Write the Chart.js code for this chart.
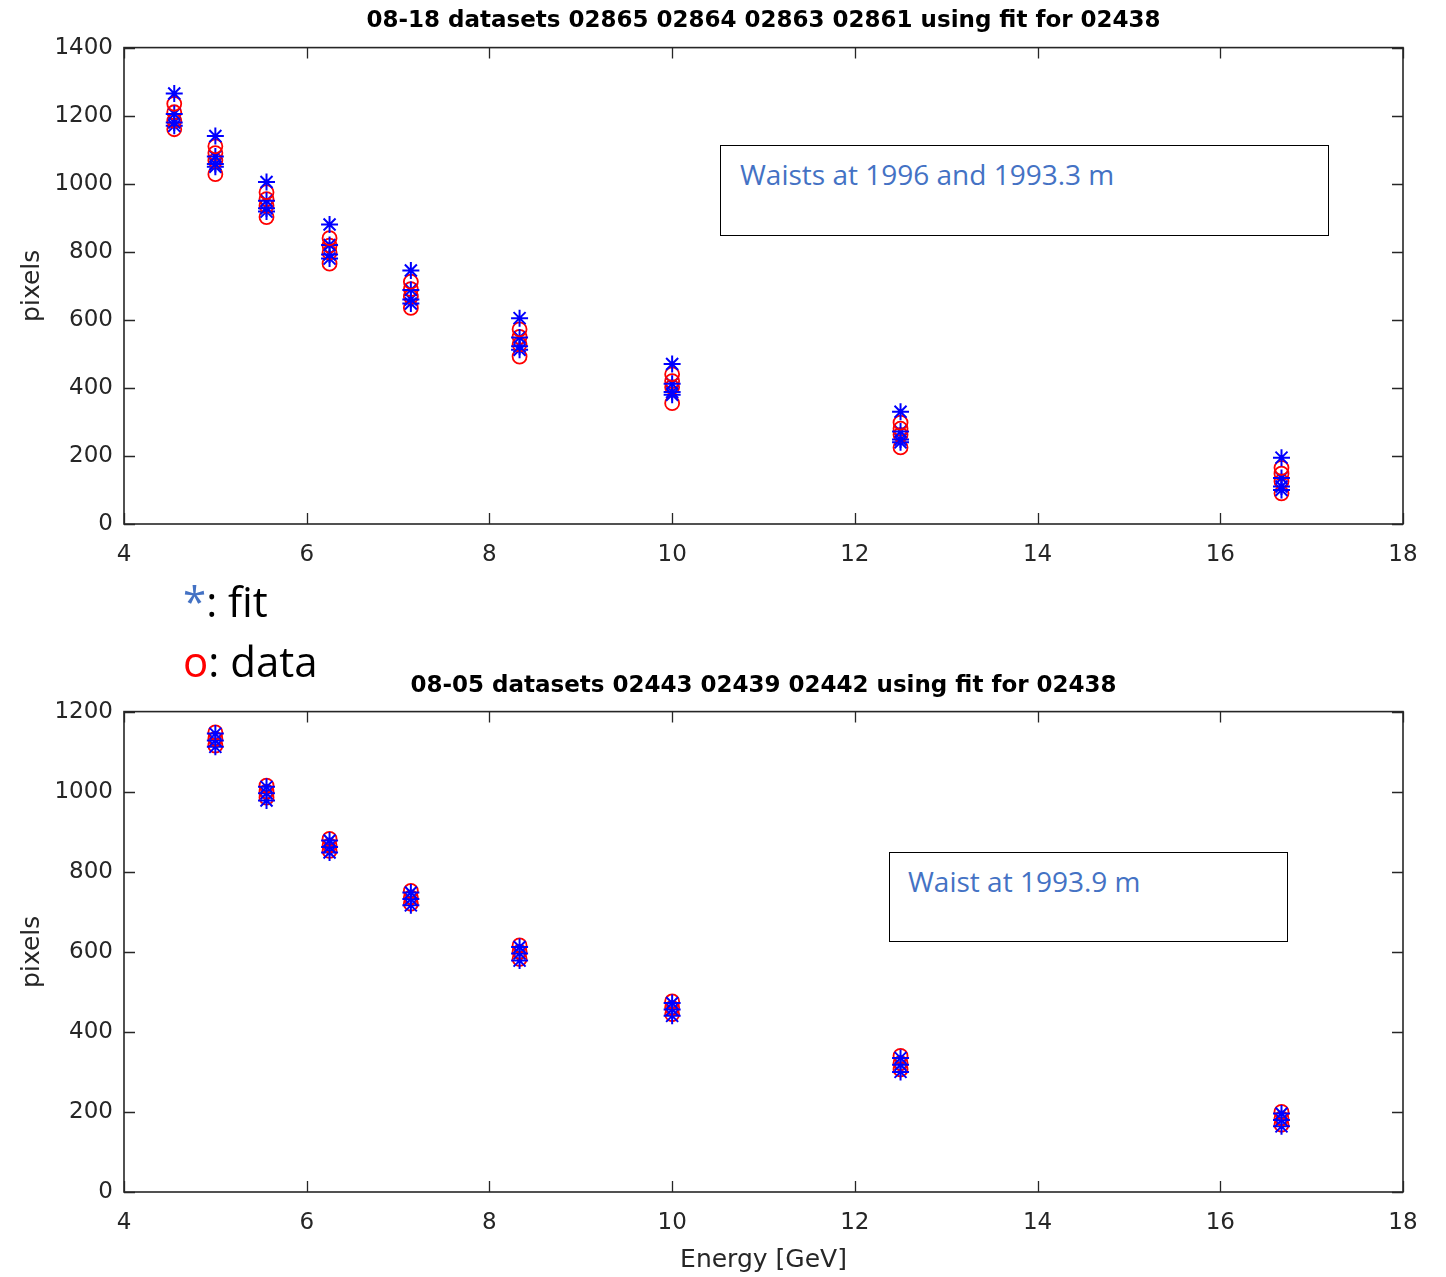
<!DOCTYPE html>
<html>
<head>
<meta charset="utf-8">
<script src="https://cdn.jsdelivr.net/npm/chart.js@4.4.0/dist/chart.umd.min.js"></script>
<style>
  html, body { margin: 0; padding: 0; background: #fff; }
  body { width: 1446px; height: 1277px; position: relative; overflow: hidden; }
  canvas { position: absolute; left: 0; }
  .box { position: absolute; border: 1px solid #000; background: #fff; box-sizing: border-box; z-index: 2; }
  .note { position: absolute; font-family: 'Open Sans', sans-serif; font-size: 28px; line-height: 36px; color: #4472C4; white-space: nowrap; z-index: 3; }
  .leg { position: absolute; font-family: 'Open Sans', sans-serif; font-size: 42px; line-height: 50px; color: #000; white-space: nowrap; z-index: 3; }
</style>
</head>
<body>
<canvas id="top" width="1446" height="574" style="top:0px"></canvas>
<canvas id="bottom" width="1446" height="625" style="top:652px"></canvas>

<div class="box" style="left:720px;top:145px;width:609px;height:91px;"></div>
<div class="note" style="left:740px;top:156px;">Waists at 1996 and 1993.3 m</div>
<div class="box" style="left:889px;top:852px;width:399px;height:90px;"></div>
<div class="note" style="left:908px;top:863px;">Waist at 1993.9 m</div>

<div class="leg" style="left:183px;top:576px;"><span style="color:#4472C4">*</span>: fit</div>
<div class="leg" style="left:183px;top:636px;"><span style="color:#FF0000">o</span>: data</div>

<script>
// ---------- Top panel (08-18) ----------
const topTitle = '08-18 datasets 02865 02864 02863 02861 using fit for 02438';
const energyTop = [4.55, 5.00, 5.56, 6.25, 7.14, 8.33, 10.0, 12.5, 16.67];
const fit02865  = [1265, 1140, 1005, 880, 745, 605, 470, 330, 195];
const fit02864  = [1205, 1080, 950, 820, 688, 548, 412, 272, 135];
const fit02863  = [1180, 1058, 928, 792, 660, 522, 388, 248, 110];
const fit02861  = [1170, 1050, 918, 780, 648, 512, 380, 240, 100];
const data02865 = [1235, 1110, 975, 840, 712, 572, 440, 298, 165];
const data02864 = [1210, 1090, 955, 818, 690, 550, 420, 280, 148];
const data02863 = [1185, 1068, 935, 798, 668, 528, 402, 262, 125];
const data02861 = [1160, 1028, 902, 765, 635, 492, 355, 225, 90];
const yTicksTop = [0, 200, 400, 600, 800, 1000, 1200, 1400];

// ---------- Bottom panel (08-05) ----------
const bottomTitle = '08-05 datasets 02443 02439 02442 using fit for 02438';
const energyBottom = [5.00, 5.56, 6.25, 7.14, 8.33, 10.0, 12.5, 16.67];
const fit02443  = [1145, 1012, 878, 748, 612, 472, 335, 196];
const fit02439  = [1128, 996, 862, 732, 596, 456, 318, 180];
const fit02442  = [1112, 978, 848, 716, 578, 440, 300, 164];
const data02443 = [1148, 1015, 882, 752, 616, 476, 340, 200];
const data02439 = [1132, 1000, 866, 736, 600, 460, 322, 184];
const data02442 = [1115, 985, 852, 720, 582, 444, 306, 168];
const yTicksBottom = [0, 200, 400, 600, 800, 1000, 1200];

const xTicks = [4, 6, 8, 10, 12, 14, 16, 18];

const AX = '#262626';
const FONT = 'DejaVu Sans';

function toPts(xs, ys) { return xs.map((x, i) => ({ x: x, y: ys[i] })); }

function fitSet(xs, ys) {
  return { data: toPts(xs, ys), pointStyle: 'star', pointRadius: 8.5, pointBorderWidth: 2,
           borderColor: '#0000FF', backgroundColor: '#0000FF', showLine: false };
}
function dataSet(xs, ys) {
  return { data: toPts(xs, ys), pointStyle: 'circle', pointRadius: 7, pointBorderWidth: 1.8,
           borderColor: '#FF0000', backgroundColor: 'rgba(0,0,0,0)', showLine: false };
}

const boxPlugin = {
  id: 'matlabBox',
  beforeDatasetsDraw(chart) {
    const { ctx, chartArea: a, scales: { x, y } } = chart;
    ctx.save();
    ctx.strokeStyle = AX;
    ctx.lineWidth = 1.6;
    ctx.strokeRect(a.left, a.top, a.right - a.left, a.bottom - a.top);
    const L = 11;
    ctx.beginPath();
    x.ticks.forEach(t => {
      const px = Math.round(x.getPixelForValue(t.value)) + 0.5;
      ctx.moveTo(px, a.bottom); ctx.lineTo(px, a.bottom - L);
      ctx.moveTo(px, a.top); ctx.lineTo(px, a.top + L);
    });
    y.ticks.forEach(t => {
      const py = Math.round(y.getPixelForValue(t.value)) + 0.5;
      ctx.moveTo(a.left, py); ctx.lineTo(a.left + L, py);
      ctx.moveTo(a.right, py); ctx.lineTo(a.right - L, py);
    });
    ctx.lineWidth = 1.3;
    ctx.stroke();
    ctx.restore();
  }
};

function makeChart(id, title, titlePad, datasets, yTicks, xAxisHeight, showXTitle) {
  return new Chart(document.getElementById(id), {
    type: 'scatter',
    data: { datasets: datasets },
    plugins: [boxPlugin],
    options: {
      responsive: false,
      animation: false,
      devicePixelRatio: 1,
      layout: { padding: { left: 0, right: 43, top: 0, bottom: 0 } },
      plugins: {
        legend: { display: false },
        tooltip: { enabled: false },
        title: {
          display: true, text: title, fullSize: false, color: '#000',
          font: { family: FONT, size: 23, weight: 'bold' },
          padding: titlePad
        }
      },
      scales: {
        x: {
          type: 'linear', min: xTicks[0], max: xTicks[xTicks.length - 1],
          grid: { display: false, drawTicks: false },
          border: { display: false },
          afterBuildTicks: s => { s.ticks = xTicks.map(v => ({ value: v })); },
          ticks: { color: AX, font: { family: FONT, size: 23 }, padding: 17, maxRotation: 0, autoSkip: false,
                   callback: v => String(v) },
          title: { display: showXTitle, text: 'Energy [GeV]', color: AX,
                   font: { family: FONT, size: 25 }, padding: { top: 0, bottom: 2 } },
          afterFit: s => { s.height = xAxisHeight; }
        },
        y: {
          type: 'linear', min: yTicks[0], max: yTicks[yTicks.length - 1],
          grid: { display: false, drawTicks: false },
          border: { display: false },
          afterBuildTicks: s => { s.ticks = yTicks.map(v => ({ value: v })); },
          ticks: { color: AX, font: { family: FONT, size: 23 }, padding: 11, autoSkip: false,
                   callback: v => String(v) },
          title: { display: true, text: 'pixels', color: AX,
                   font: { family: FONT, size: 25 }, padding: { top: 17, bottom: 0 } },
          afterFit: s => { s.width = 124; }
        }
      }
    }
  });
}

makeChart('top', topTitle, { top: 7, bottom: 13 }, [
  fitSet(energyTop, fit02865), dataSet(energyTop, data02865),
  fitSet(energyTop, fit02864), dataSet(energyTop, data02864),
  fitSet(energyTop, fit02863), dataSet(energyTop, data02863),
  fitSet(energyTop, fit02861), dataSet(energyTop, data02861)
], yTicksTop, 50, false);

makeChart('bottom', bottomTitle, { top: 20, bottom: 12 }, [
  fitSet(energyBottom, fit02443), dataSet(energyBottom, data02443),
  fitSet(energyBottom, fit02439), dataSet(energyBottom, data02439),
  fitSet(energyBottom, fit02442), dataSet(energyBottom, data02442)
], yTicksBottom, 85, true);
</script>
</body>
</html>
